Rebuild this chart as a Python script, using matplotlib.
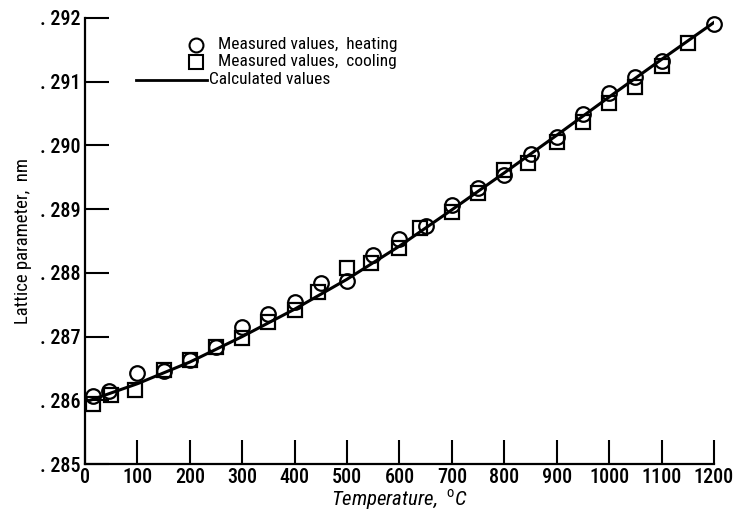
import matplotlib
matplotlib.use('Agg')
import matplotlib.pyplot as plt
from matplotlib.font_manager import fontManager

# measured on heating
heat_temp = [15, 45, 100, 150, 200, 250, 300, 350, 400, 450, 500, 550, 600, 650,
             700, 750, 800, 850, 900, 950, 1000, 1050, 1100, 1200]
heat_lat = [0.28607, 0.28614, 0.28643, 0.28646, 0.28663, 0.28683, 0.28715, 0.28735,
            0.28754, 0.28784, 0.28788, 0.28828, 0.28853, 0.28873, 0.28906, 0.28933,
            0.28953, 0.28986, 0.29014, 0.29050, 0.29083, 0.29107, 0.29133, 0.29191]

# measured on cooling
cool_temp = [15, 50, 95, 150, 200, 250, 300, 350, 400, 445, 500, 545, 600, 640,
             700, 750, 800, 845, 900, 950, 1000, 1050, 1100, 1150]
cool_lat = [0.28594, 0.28608, 0.28616, 0.28648, 0.28663, 0.28684, 0.28697, 0.28723,
            0.28741, 0.28770, 0.28807, 0.28815, 0.28839, 0.28870, 0.28895, 0.28925,
            0.28961, 0.28973, 0.29005, 0.29036, 0.29067, 0.29091, 0.29125, 0.29160]

# calculated curve
calc_temp = [10, 100, 200, 300, 400, 500, 600, 700, 800, 900, 1000, 1100, 1200]
calc_lat = [0.28600, 0.28626, 0.28660, 0.28700, 0.28743, 0.28790, 0.28842, 0.28899,
            0.28957, 0.29016, 0.29076, 0.29135, 0.29193]

x_ticks = list(range(0, 1201, 100))
y_ticks = [0.285, 0.286, 0.287, 0.288, 0.289, 0.290, 0.291, 0.292]
y_labels = ['. 285', '. 286', '. 287', '. 288', '. 289', '. 290', '. 291', '. 292']

names = {f.name for f in fontManager.ttflist}
fam = 'DejaVu Sans'
for cand in ['Roboto Condensed', 'Archivo Narrow', 'PT Sans Narrow', 'Liberation Sans Narrow',
             'Fira Sans Condensed', 'IBM Plex Sans Condensed', 'Encode Sans Condensed',
             'Barlow Semi Condensed', 'Open Sans Condensed']:
    if cand in names:
        fam = cand
        break
plt.rcParams['font.family'] = [fam, 'DejaVu Sans']
plt.rcParams['mathtext.fontset'] = 'custom'
plt.rcParams['mathtext.rm'] = fam

fig = plt.figure(figsize=(7.35, 5.17), dpi=100)
ax = fig.add_axes([0.1156, 0.1025, 0.8558, 0.8627])

ax.plot(calc_temp, calc_lat, color='black', lw=2.2, zorder=2)
ax.plot(heat_temp, heat_lat, 'o', ms=10.5, mfc='none', mec='black', mew=1.6, zorder=3, clip_on=False)
ax.plot(cool_temp, cool_lat, 's', ms=10, mfc='none', mec='black', mew=1.6, zorder=3, clip_on=False)

ax.set_xlim(0, 1200)
ax.set_ylim(0.285, 0.292)
ax.set_xticks(x_ticks)
ax.set_yticks(y_ticks)
ax.set_yticklabels(y_labels)
ax.tick_params(direction='in', length=17, width=1.5, labelsize=14.5, pad=3)
for lab in ax.get_xticklabels() + ax.get_yticklabels():
    lab.set_fontweight('medium')
for s in ['top', 'right']:
    ax.spines[s].set_visible(False)
for s in ['left', 'bottom']:
    ax.spines[s].set_linewidth(1.6)

ax.set_xlabel('Temperature,  $^{\\mathrm{o}}$C', fontsize=15, style='italic', labelpad=0)
ax.set_ylabel('Lattice parameter,  nm', fontsize=13.5, labelpad=6)

# legend drawn as in the original figure
tr = ax.transAxes
ax.plot([0.176], [0.940], 'o', ms=10, mfc='none', mec='black', mew=1.5, transform=tr, clip_on=False)
ax.plot([0.176], [0.902], 's', ms=9.5, mfc='none', mec='black', mew=1.5, transform=tr, clip_on=False)
ax.plot([0.081, 0.194], [0.861, 0.861], color='black', lw=2, transform=tr, clip_on=False)
ax.text(0.211, 0.940, 'Measured values,  heating', transform=tr, fontsize=12.5, va='center')
ax.text(0.211, 0.902, 'Measured values,  cooling', transform=tr, fontsize=12.5, va='center')
ax.text(0.197, 0.861, 'Calculated values', transform=tr, fontsize=12.5, va='center')

plt.savefig('out.png', dpi=100)
